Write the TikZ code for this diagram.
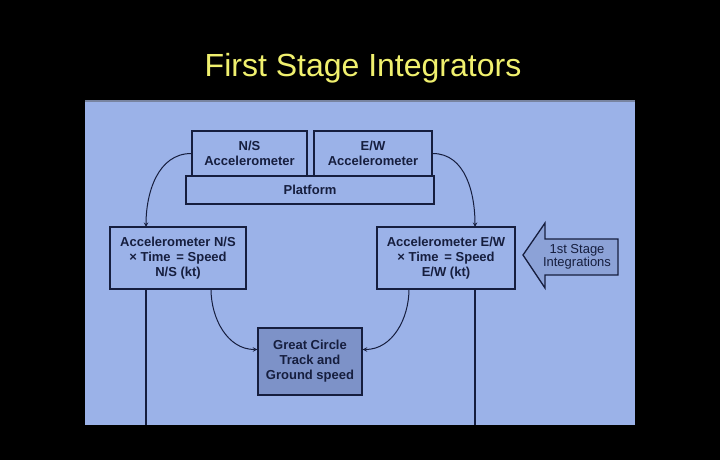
\documentclass[tikz,border=0pt]{standalone}
\usepackage{fontspec}
\setmainfont{Liberation Sans}
\usepackage{tikz}
\definecolor{panel}{RGB}{155,178,232}
\definecolor{panelrim}{RGB}{120,132,160}
\definecolor{gcfill}{RGB}{125,146,200}
\definecolor{arrfill}{RGB}{140,162,215}
\definecolor{ink}{RGB}{22,30,62}
\definecolor{titleyel}{RGB}{240,240,110}

\begin{document}
\begin{tikzpicture}[x=1pt,y=-1pt,
    blok/.style={draw=ink, line width=1.3pt, align=center, font=\fontsize{13}{15}\selectfont\bfseries, text=ink, inner sep=0pt},
    link/.style={draw=ink, line width=1pt, ->, >=stealth}]
                \fill[black] (0,0) rectangle (720,460);
                \useasboundingbox (0,0) rectangle (720,460);
                \fill[panel] (85,101) rectangle (635,425);
                \draw[panelrim, line width=2pt] (85,101) -- (635,101);

                \node[text=titleyel, font=\fontsize{32}{36}\selectfont] (title) at (363,68) {First Stage Integrators};

                \node[blok, fill=panel, minimum width=248, minimum height=28] (platform) at (310,190) {Platform};
                \node[blok, fill=panel, minimum width=115, minimum height=45] (nsacc) at (249.5,153.5) {N/S\\Accelerometer};
                \node[blok, fill=panel, minimum width=118, minimum height=45] (ewacc) at (373,153.5) {E/W\\Accelerometer};
                \node[blok, fill=panel, minimum width=136, minimum height=62] (nsspeed) at (178,258) {Accelerometer N/S\\× Time \,= Speed\\N/S (kt)};
                \node[blok, fill=panel, minimum width=138, minimum height=62] (ewspeed) at (446,258) {Accelerometer E/W\\× Time \,= Speed\\E/W (kt)};
                \node[blok, fill=gcfill, minimum width=104, minimum height=67] (gc) at (310,361.5) {Great Circle\\Track and\\Ground speed};

                \coordinate (nsin) at (146,227);
                \coordinate (ewin) at (475,227);
                \coordinate (nsout) at (146,289);
                \coordinate (ewout) at (475,289);
                \coordinate (nsend) at (146,425);
                \coordinate (ewend) at (475,425);
                \coordinate (nsgc) at (211,289);
                \coordinate (ewgc) at (409,289);

                \draw[link] (nsacc.west) to[out = 180, in = 90] (nsin);
                \draw[link] (ewacc.east) to[out = 0, in = 90] (ewin);
                \draw[link] (nsgc) to[out = -90, in = 180] ([yshift=12]gc.west);
                \draw[link] (ewgc) to[out = -90, in = 0] ([yshift=12]gc.east);
                \draw[draw=ink, line width=1.3pt] (nsout) -- (nsend);
                \draw[draw=ink, line width=1.3pt] (ewout) -- (ewend);

                \draw[draw=ink, line width=1.3pt, fill=arrfill, line join=miter]
                    (523,255) -- (545,223) -- (545,239) -- (618,239) -- (618,275) -- (545,275) -- (545,288) -- cycle;
                \node[align=center, text=ink, font=\fontsize{13}{13}\selectfont, inner sep=0pt] (stage) at (577,257) {1st Stage\\Integrations};
            \end{tikzpicture}
\end{document}
